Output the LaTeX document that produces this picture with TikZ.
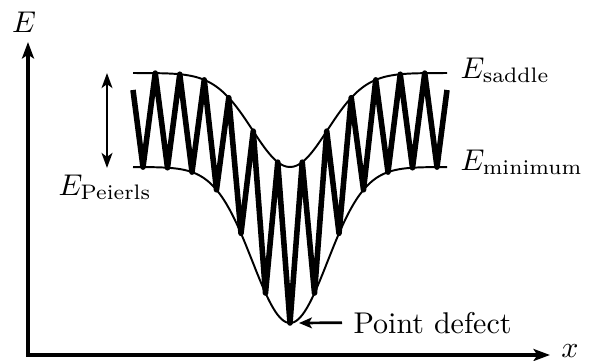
\documentclass[tikz,border=0pt]{standalone}
\usepackage{amsmath}
\usepackage{tikz}
\usetikzlibrary{arrows.meta, positioning}

\tikzset{
  axis/.style={line width=1.1pt, line join=miter,
    {Stealth[length=5.5pt, width=4pt, inset=1.3pt]}-{Stealth[length=5.5pt, width=4pt, inset=1.3pt]}},
  envelope/.style={line width=0.65pt},
  hopping/.style={line width=1.85pt, line join=round},
  marker/.style={line width=0.9pt,
    {Stealth[length=5pt, width=3.6pt, inset=1.3pt]}-{Stealth[length=5pt, width=3.6pt, inset=1.3pt]}},
  pointer/.style={line width=0.9pt, -{Stealth[length=4.3pt, width=3.6pt, inset=1pt]}},
}

\begin{document}
\begin{tikzpicture}[x=0.3333pt, y=-0.3333pt,
    every node/.style={inner sep=0pt},
    declare function={env(\t)=exp(-((\t-290)/53)*((\t-290)/53));}]
  \useasboundingbox (0,0) rectangle (599,360);

  % axes
  \coordinate (origin) at (28,355);
  \coordinate (ytip) at (28,42);
  \coordinate (xtip) at (550,355);
  \draw[axis] (ytip) -- (origin) -- (xtip);
  \node (elabel) at (24,22) {$E$};
  \node (xlabel) at (570,351) {$x$};

  % saddle and minimum envelopes
  \draw[envelope] plot[domain=133:447, samples=120, smooth] (\x, {73+94*env(\x)});
  \draw[envelope] plot[domain=133:447, samples=120, smooth] (\x, {167+156*env(\x)});

  % oscillating energy along x
  \coordinate (start) at (133,90);
  \coordinate (finish) at (447,90);
  \draw[hopping] (start)
    \foreach \k in {-6,...,5} {
      -- ({290+24.5*\k}, {167+156*env(290+24.5*\k)})
      -- ({302.25+24.5*\k}, {73+94*env(302.25+24.5*\k)})
    }
    -- (437, {167+156*env(437)}) -- (finish);

  % Peierls barrier
  \coordinate (peierlstop) at (107,73);
  \coordinate (peierlsbot) at (107,168);
  \draw[marker] (peierlstop) -- (peierlsbot);
  \node[anchor=base west] (peierls) at (58,195) {$E_{\text{Peierls}}$};

  % level labels
  \node[anchor=base west] (saddle) at (460,78) {$E_{\text{saddle}}$};
  \node[anchor=base west] (minimum) at (460,170) {$E_{\text{minimum}}$};

  % point defect
  \coordinate (pdmin) at (299,323);
  \node[anchor=base west] (defect) at (353,333) {Point defect};
  \draw[pointer, shorten <=11pt/3] (defect.west) -- (pdmin);
\end{tikzpicture}
\end{document}
